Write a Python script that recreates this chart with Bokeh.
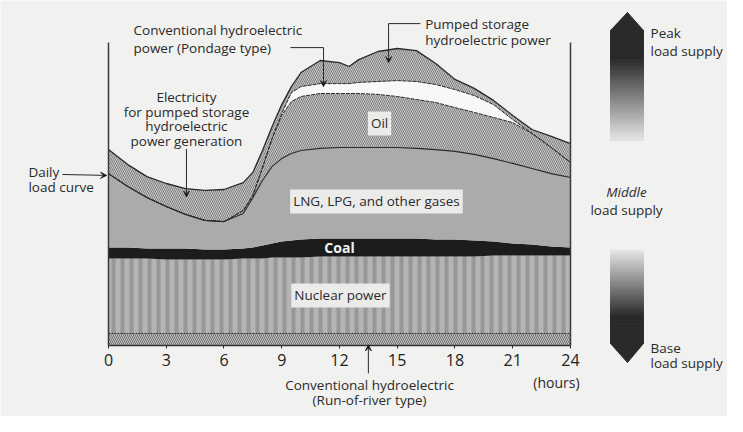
import numpy as np
from bokeh.plotting import figure
from bokeh.models import Range1d, LinearAxis, FixedTicker, Label, Arrow, VeeHead
from bokeh.embed import file_html
from bokeh.resources import INLINE

# ---------------- data (hours of the day, load in % of daily peak) ----------------
hours = [0, 1, 2, 3, 4, 5, 6, 7, 7.5, 8, 8.5, 9, 9.5, 10, 11, 12, 12.5, 13, 14, 15,
         16, 17, 18, 19, 20, 21, 22, 23, 24]
run_of_river_top = [4.0, 4.0, 4.0, 4.0, 4.0, 4.0, 4.0, 4.0, 4.0, 4.0, 4.0, 4.0, 4.0, 4.0,
                    4.0, 4.0, 4.0, 4.0, 4.0, 4.0, 4.0, 4.0, 4.0, 4.0, 4.0, 4.0, 4.0, 4.0, 4.0]
nuclear_top = [29.0, 29.0, 29.0, 28.7, 28.7, 28.7, 28.7, 29.0, 29.0, 29.0, 29.3, 29.3, 29.3,
               29.3, 29.7, 29.7, 29.7, 29.7, 29.7, 29.7, 29.7, 29.7, 29.7, 29.7, 30.0, 30.0,
               30.0, 30.0, 30.0]
coal_top = [32.7, 32.7, 32.3, 32.3, 32.3, 32.0, 32.0, 32.3, 32.7, 33.3, 34.0, 34.7, 35.0, 35.3,
            35.7, 35.7, 35.7, 35.7, 35.7, 35.7, 35.7, 35.3, 35.3, 35.0, 34.7, 34.0, 33.7, 33.0,
            32.7]
lng_top = [57.3, 53.0, 49.3, 46.3, 43.7, 41.7, 41.3, 44.0, 49.3, 55.0, 59.7, 62.3, 64.0, 65.0,
           65.7, 66.0, 66.0, 66.0, 66.0, 66.0, 65.7, 65.3, 64.7, 63.7, 62.3, 60.7, 59.0, 57.3,
           56.0]
oil_top = [57.3, 53.0, 49.3, 46.3, 43.7, 41.7, 41.3, 45.0, 50.0, 59.3, 69.0, 76.7, 81.3, 83.0,
           84.0, 84.0, 84.0, 84.0, 83.7, 83.0, 82.0, 81.0, 79.3, 77.7, 76.0, 74.3, 70.7, 66.0,
           61.0]
pondage_top = [57.3, 53.0, 49.3, 46.3, 43.7, 41.7, 41.3, 45.0, 50.0, 59.3, 69.0, 77.3, 84.3,
               86.3, 87.3, 87.3, 87.3, 87.7, 88.0, 88.3, 88.0, 87.0, 85.3, 83.3, 80.3, 75.3,
               70.7, 66.0, 61.0]
total_top = [65.3, 60.3, 56.3, 54.0, 52.3, 51.7, 52.0, 54.3, 57.7, 65.0, 73.0, 80.3, 86.3, 91.0,
             95.0, 94.3, 93.0, 95.3, 98.0, 99.0, 98.3, 94.0, 88.7, 85.7, 81.7, 76.7, 72.0, 69.7,
             67.3]
tick_hours = [0, 3, 6, 9, 12, 15, 18, 21, 24]

# ---------------- style ----------------
BG = "#f1f1ef"
FONT = "Open Sans"
INK = "#2a2a2a"
zeros = [0.0] * len(hours)

p = figure(width=727, height=416, x_range=Range1d(-5.610, 32.156),
           y_range=Range1d(-23.667, 115.0), output_backend="svg",
           toolbar_location=None, x_axis_location=None, y_axis_location=None,
           min_border=0, background_fill_color=BG, border_fill_color=BG,
           outline_line_color=None)
p.grid.visible = False

# stacked layers
p.varea(x=hours, y1=zeros, y2=run_of_river_top, fill_color="#c6c6c6",
        hatch_pattern="\\", hatch_color="#6e6e6e", hatch_scale=4, hatch_weight=1)
p.varea(x=hours, y1=run_of_river_top, y2=nuclear_top, fill_color="#b4b4b4",
        hatch_pattern="|", hatch_color="#979797", hatch_scale=9, hatch_weight=4)
p.varea(x=hours, y1=nuclear_top, y2=coal_top, fill_color="#1c1c1c")
p.varea(x=hours, y1=coal_top, y2=lng_top, fill_color="#ababab")
p.varea(x=hours, y1=lng_top, y2=oil_top, fill_color="#c6c6c6",
        hatch_pattern="\\", hatch_color="#808080", hatch_scale=4, hatch_weight=1)
p.varea(x=hours, y1=oil_top, y2=pondage_top, fill_color="#f8f8f6")
p.varea(x=hours, y1=pondage_top, y2=total_top, fill_color="#c6c6c6",
        hatch_pattern="\\", hatch_color="#808080", hatch_scale=4, hatch_weight=1)

# boundaries
p.line(hours, run_of_river_top, line_color=INK, line_width=1, line_dash="2 1")
p.line(hours, lng_top, line_color=INK, line_width=1.1)
p.line(hours, oil_top, line_color=INK, line_width=1, line_dash="4 1")
p.line(hours, pondage_top, line_color=INK, line_width=1, line_dash="4 1")
p.line(hours, total_top, line_color=INK, line_width=1.3)

# frame verticals at 0 h and 24 h
frame_top = 101
p.segment(x0=[hours[0], hours[-1]], y0=[0, 0], x1=[hours[0], hours[-1]],
          y1=[frame_top, frame_top], line_color="#3a3a3a", line_width=1.5)

# x axis drawn at load = 0
xa = LinearAxis(ticker=FixedTicker(ticks=tick_hours), fixed_location=0, bounds=(0, 24))
xa.major_label_text_font = FONT
xa.major_label_text_font_size = "16px"
xa.major_label_text_color = "#222222"
xa.major_label_standoff = 6
xa.major_tick_in = 0
xa.major_tick_out = 3
xa.major_tick_line_color = INK
xa.minor_tick_line_color = None
xa.axis_line_color = "#333333"
xa.axis_line_width = 1.5
p.add_layout(xa, "below")


def lab(x, y, text, align="left", size="13.5px", bg=None, color="#2a2a2a", style="normal"):
    kw = {}
    if bg is not None:
        kw = dict(background_fill_color=bg, padding=3)
    p.add_layout(Label(x=x, y=y, text=text, text_align=align, text_baseline="middle",
                       text_font=FONT, text_font_size=size, text_color=color,
                       text_font_style=style, **kw))


def arrow(x0, y0, x1, y1):
    p.add_layout(Arrow(end=VeeHead(size=6, line_color=INK, line_width=1),
                       x_start=x0, y_start=y0, x_end=x1, y_end=y1,
                       line_color=INK, line_width=1))


# annotations
lab(1.30, 105.0, "Conventional hydroelectric")
lab(1.30, 99.3, "power (Pondage type)")
p.line([9.45, 11.17], [99.3, 99.3], line_color=INK, line_width=1)
arrow(11.17, 99.3, 11.17, 86.3)

lab(16.45, 107.3, "Pumped storage")
lab(16.45, 101.7, "hydroelectric power")
p.line([16.2, 14.55], [107.3, 107.3], line_color=INK, line_width=1)
arrow(14.55, 107.3, 14.55, 94.3)

lab(4.05, 82.7, "Electricity", align="center")
lab(4.05, 77.7, "for pumped storage", align="center")
lab(4.05, 73.0, "hydroelectric", align="center")
lab(4.05, 68.3, "power generation", align="center")
arrow(4.05, 65.5, 4.05, 49.5)

lab(-4.16, 57.7, "Daily")
lab(-4.16, 52.7, "load curve")
arrow(-2.39, 57.0, -0.1, 56.7)

lab(14.08, 74.0, "Oil", align="center", bg="#ebebea")
lab(13.92, 48.0, "LNG, LPG, and other gases", align="center", bg="#ebebea")
lab(12.0, 32.8, "Coal", align="center", color="#f2f2f2", size="14px", style="bold")
lab(12.05, 16.7, "Nuclear power", align="center", bg="#ebebea")

lab(13.56, -13.3, "Conventional hydroelectric", align="center")
lab(13.56, -18.3, "(Run-of-river type)", align="center")
arrow(13.5, -9.3, 13.5, 0.2)
lab(23.27, -12.3, "(hours)", align="center", size="14px")

# right-hand scale: peak / middle / base load supply
xl, xr, xc = 26.08, 27.79, 26.96
p.patch([xl, xc, xr], [105.0, 111.0, 105.0], fill_color="#2a2a2a", line_color="#2a2a2a")
n = 40
ys = np.linspace(105.0, 68.3, n + 1)
t = np.clip((105.0 - ys[:-1]) / (105.0 - 68.3), 0, 1)
shade = np.where(t < 0.25, 42, 42 + (232 - 42) * (t - 0.25) / 0.75).astype(int)
cols = ["#%02x%02x%02x" % (s, s, s) for s in shade]
p.quad(left=xl, right=xr, top=ys[:-1], bottom=ys[1:], fill_color=cols, line_color=cols,
       line_width=1)

p.patch([xl, xc, xr], [0.67, -5.67, 0.67], fill_color="#2a2a2a", line_color="#2a2a2a")
ys2 = np.linspace(31.7, 0.67, n + 1)
t2 = np.clip((ys2[:-1] - 0.67) / (31.7 - 0.67), 0, 1)
shade2 = np.where(t2 < 0.3, 42, 42 + (228 - 42) * (t2 - 0.3) / 0.7).astype(int)
cols2 = ["#%02x%02x%02x" % (s, s, s) for s in shade2]
p.quad(left=xl, right=xr, top=ys2[:-1], bottom=ys2[1:], fill_color=cols2, line_color=cols2,
       line_width=1)

lab(28.16, 104.0, "Peak")
lab(28.16, 98.3, "load supply")
lab(26.91, 51.0, "Middle", align="center", style="italic")
lab(26.91, 45.0, "load supply", align="center")
lab(28.16, -0.7, "Base")
lab(28.16, -6.0, "load supply")

open("out.html", "w").write(file_html(p, INLINE))
